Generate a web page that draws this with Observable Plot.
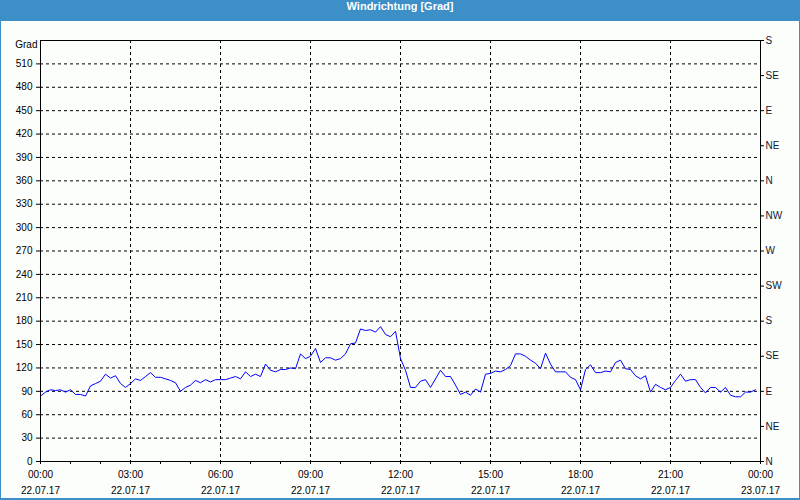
<!DOCTYPE html>
<html>
<head>
<meta charset="utf-8">
<script src="https://cdn.jsdelivr.net/npm/d3@7"></script>
<script src="https://cdn.jsdelivr.net/npm/@observablehq/plot@0.6"></script>
<style>
  html, body { margin: 0; padding: 0; background: #fcfefc; }
  #win { width: 800px; height: 500px; box-sizing: border-box; border-left: 1px solid #3c8fc7; border-right: 1px solid #3c8fc7; border-bottom: 2px solid #3c8fc7; background: #fcfefc; overflow: hidden; }
  #title { height: 21px; line-height: 20px; background: #3c8fc7; color: #fff; font: bold 11px "Liberation Sans", sans-serif; text-align: center; }
  svg { display: block; }
</style>
</head>
<body>
<div id="win">
  <div id="title">Windrichtung [Grad]</div>
  <div id="chart"></div>
</div>
<script>
// --- data ---
const startDate = "2017-07-22T00:00:00Z";
const endDate = "2017-07-23T00:00:00Z";
const stepMinutes = 10;
const windDir = [
  84, 89, 92, 91, 92, 89, 92, 86, 86, 84,
  97, 100, 103, 112, 107, 110, 100, 95, 100, 106,
  104, 109, 114, 108, 108, 106, 104, 101, 90, 95,
  98, 104, 101, 105, 102, 105, 105, 105, 107, 109,
  106, 115, 109, 112, 109, 125, 117, 115, 118, 118,
  120, 119, 138, 132, 135, 145, 127, 133, 133, 130,
  132, 138, 151, 152, 170, 168, 169, 166, 173, 163,
  160, 167, 132, 117, 95, 95, 103, 105, 95, 106,
  117, 109, 109, 98, 86, 89, 85, 93, 89, 112,
  113, 116, 115, 118, 123, 138, 138, 135, 130, 126,
  119, 139, 125, 115, 115, 115, 108, 105, 92, 118,
  124, 114, 114, 116, 115, 127, 130, 119, 118, 110,
  106, 110, 89, 99, 95, 92, 95, 104, 112, 103,
  105, 105, 95, 88, 95, 95, 89, 95, 85, 83,
  83, 89, 89, 92
];
const gradTicks = [0, 30, 60, 90, 120, 150, 180, 210, 240, 270, 300, 330, 360, 390, 420, 450, 480, 510];
const gridGrad = [30, 60, 90, 120, 150, 180, 210, 240, 270, 300, 330, 360, 390, 420, 450, 480, 510];
const compassTicks = [0, 45, 90, 135, 180, 225, 270, 315, 360, 405, 450, 495, 540];
const compassLabels = ["N", "NE", "E", "SE", "S", "SW", "W", "NW", "N", "NE", "E", "SE", "S"];
const timeTicks = ["2017-07-22T00:00:00Z", "2017-07-22T03:00:00Z", "2017-07-22T06:00:00Z", "2017-07-22T09:00:00Z",
  "2017-07-22T12:00:00Z", "2017-07-22T15:00:00Z", "2017-07-22T18:00:00Z", "2017-07-22T21:00:00Z", "2017-07-23T00:00:00Z"];
const timeGrid = timeTicks.slice(1, -1);

const t0 = new Date(startDate).getTime();
const data = windDir.map((v, i) => ({ t: new Date(t0 + i * stepMinutes * 60000), v }));
const tickDates = timeTicks.map(s => new Date(s));
const gridDates = timeGrid.map(s => new Date(s));

const chart = Plot.plot({
  width: 798,
  height: 477,
  marginLeft: 39,
  marginRight: 39,
  marginTop: 19,
  marginBottom: 37,
  style: { fontFamily: "'Liberation Sans', sans-serif", fontSize: "10px", background: "transparent", color: "#000" },
  x: { type: "utc", domain: [new Date(startDate), new Date(endDate)] },
  y: { domain: [0, 540] },
  marks: [
    Plot.ruleY(gridGrad, { stroke: "#000", strokeDasharray: "3,3" }),
    Plot.ruleX(gridDates, { stroke: "#000", strokeDasharray: "3,3" }),
    Plot.line(data, { x: "t", y: "v", stroke: "#0000ff", strokeWidth: 1 }),
    Plot.frame({ stroke: "#000" }),
    Plot.axisY({ anchor: "left", ticks: gradTicks, tickSize: 7, tickPadding: 1, strokeDasharray: "4,3", label: null, fill: "#000" }),
    Plot.axisY({ anchor: "right", ticks: compassTicks, tickFormat: d => compassLabels[compassTicks.indexOf(d)], tickSize: 3, tickPadding: 2, label: null, fill: "#101830" }),
    Plot.axisX({ ticks: d3.utcHour.every(1), tickSize: 3, text: null, label: null }),
    Plot.axisX({ ticks: tickDates, tickSize: 3, tickPadding: 6, tickFormat: d3.utcFormat("%H:%M"), label: null, fill: "#000" }),
    Plot.axisX({ ticks: tickDates, tickSize: 0, tickPadding: 25, tickFormat: d3.utcFormat("%d.%m.%y"), label: null, fill: "#000" }),
    Plot.text(["Grad"], { text: d => d, frameAnchor: "top-left", dx: -3, dy: 4, textAnchor: "end", lineAnchor: "middle", fill: "#000" })
  ]
});
document.getElementById("chart").appendChild(chart);
</script>
</body>
</html>
